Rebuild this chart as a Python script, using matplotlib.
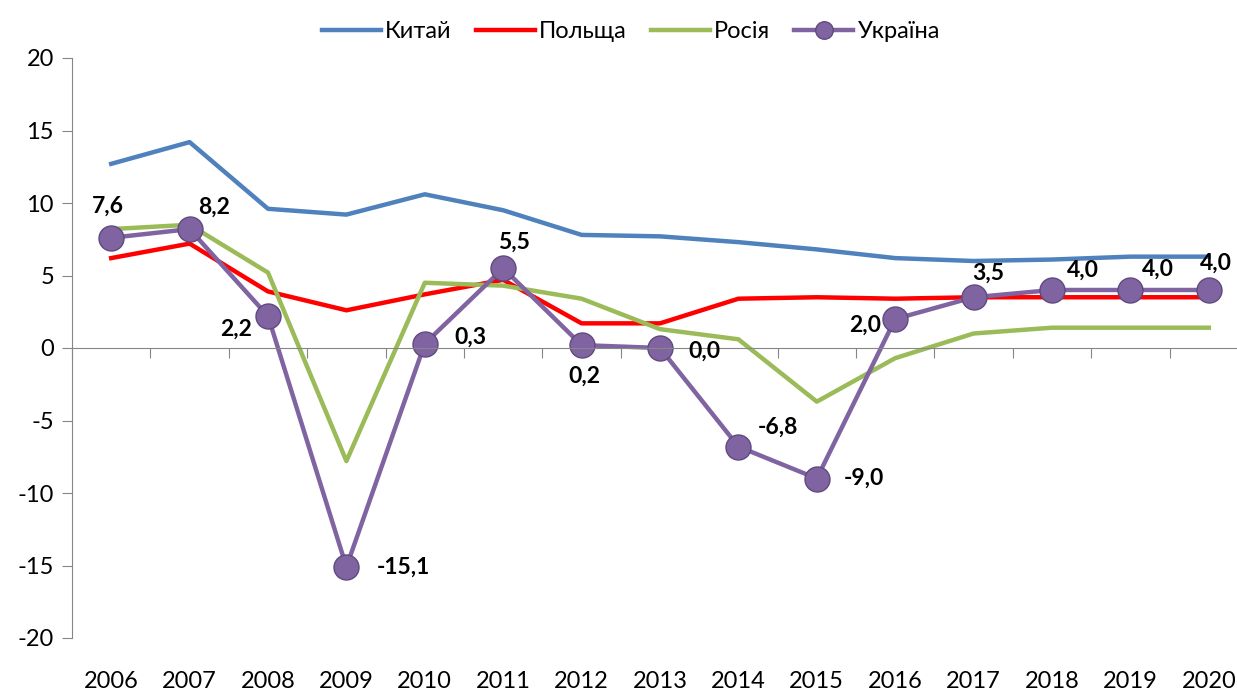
import matplotlib.pyplot as plt
import numpy as np

plt.rcParams['font.family'] = ['Lato', 'DejaVu Sans']
plt.rcParams['axes.unicode_minus'] = False

years = ['2006', '2007', '2008', '2009', '2010', '2011', '2012', '2013',
         '2014', '2015', '2016', '2017', '2018', '2019', '2020']
china = [12.7, 14.2, 9.6, 9.2, 10.6, 9.5, 7.8, 7.7, 7.3, 6.8, 6.2, 6.0, 6.1, 6.3, 6.3]
poland = [6.2, 7.2, 3.9, 2.6, 3.7, 4.7, 1.7, 1.7, 3.4, 3.5, 3.4, 3.5, 3.5, 3.5, 3.5]
russia = [8.2, 8.5, 5.2, -7.8, 4.5, 4.3, 3.4, 1.3, 0.6, -3.7, -0.7, 1.0, 1.4, 1.4, 1.4]
ukraine = [7.6, 8.2, 2.2, -15.1, 0.3, 5.5, 0.2, 0.0, -6.8, -9.0, 2.0, 3.5, 4.0, 4.0, 4.0]

# label offsets (pixels) for the Ukraine data labels
offsets = [(-3, 32), (24, 22), (-32, -13), (57, 0), (46, 6), (11, 26), (3, -31),
           (44, -3), (40, 19), (47, 0), (-30, -6), (15, 24), (31, 20), (28, 21), (7, 27)]

x = np.arange(len(years))
grey = '#868686'

fig = plt.figure(figsize=(12.37, 6.91), dpi=100)
ax = fig.add_axes([72 / 1237, 1 - 638 / 691, (1248 - 72) / 1237, (638 - 58) / 691])

ax.plot(x, china, color='#4F81BD', lw=3.2, label='Китай')
ax.plot(x, poland, color='#FF0000', lw=3.2, label='Польща')
ax.plot(x, russia, color='#9BBB59', lw=3.2, label='Росія')
ax.plot(x, ukraine, color='#8064A2', lw=3.2, marker='o', ms=18,
        mfc='#8064A2', mec='#5E4A7E', mew=1, label='Україна')

for xi, v, (dx, dy) in zip(x, ukraine, offsets):
    ax.annotate(f'{v:.1f}'.replace('.', ','), (xi, v), xytext=(dx, dy),
                textcoords='offset pixels', ha='center', va='center',
                fontsize=16.5, fontweight='bold', color='black')

ax.set_xlim(-0.5, len(years) - 0.5)
ax.set_ylim(-20, 20)
ax.set_yticks(np.arange(-20, 21, 5))
ax.tick_params(axis='y', direction='out', length=7, color=grey, labelsize=17, pad=6)

for s in ['top', 'right']:
    ax.spines[s].set_visible(False)
ax.spines['left'].set_color(grey)
ax.spines['bottom'].set_position(('data', 0))
ax.spines['bottom'].set_color(grey)
ax.set_xticks(np.arange(len(years) + 1) - 0.5)
ax.set_xticklabels([])
ax.tick_params(axis='x', direction='out', length=7, color=grey)

sec = ax.secondary_xaxis(0)
sec.spines['bottom'].set_visible(False)
sec.set_xticks(x)
sec.set_xticklabels(years)
sec.tick_params(length=0, labelsize=17, pad=24)

fig.legend(loc='upper center', bbox_to_anchor=(0.51, 1.0), ncol=4, frameon=False,
           fontsize=17, handlelength=2.5, columnspacing=1.0, handletextpad=0.2,
           markerscale=0.7)

fig.savefig('out.png', dpi=100)
